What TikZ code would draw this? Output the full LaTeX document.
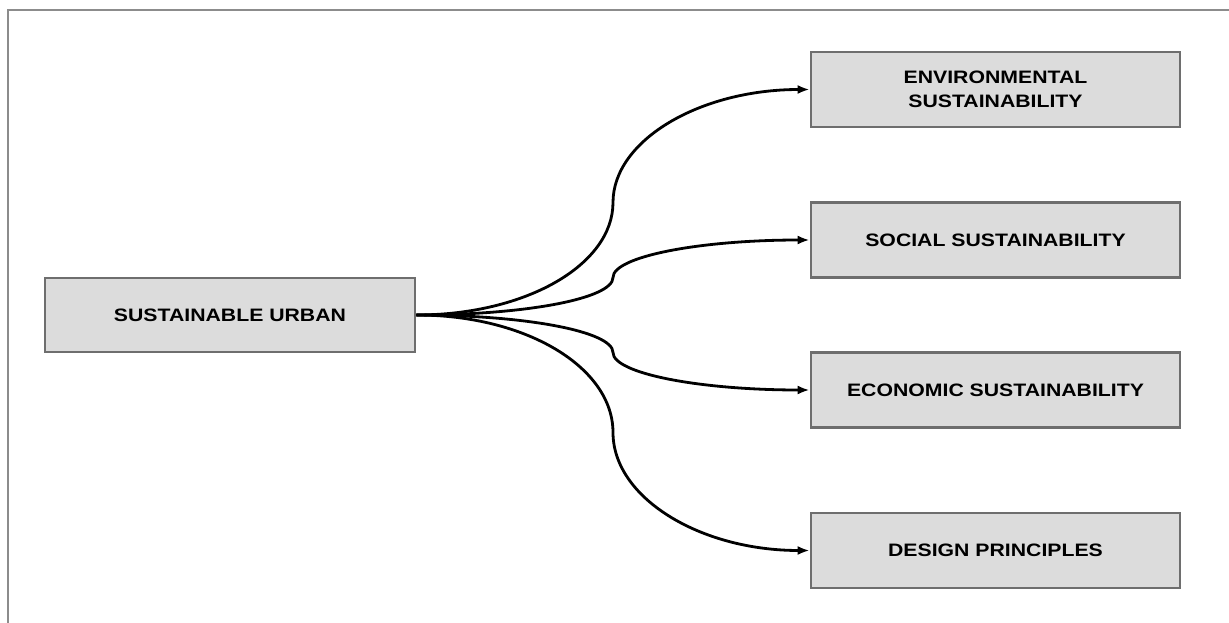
\documentclass[tikz,border=0pt]{standalone}
\usepackage{fontspec}
\setmainfont{Liberation Sans}[FakeStretch=1.18]
\usetikzlibrary{arrows.meta}
\definecolor{boxfill}{HTML}{DCDCDC}
\definecolor{boxline}{HTML}{6E6E6E}
\definecolor{frameline}{HTML}{8C8C8C}
\begin{document}
\begin{tikzpicture}[x=1pt,y=-1pt,
    box/.style={draw=boxline, line width=2.8pt, fill=boxfill, minimum width=369pt,
      minimum height=75pt, inner sep=0pt, align=center,
      font=\bfseries\fontsize{18}{24}\selectfont},
    link/.style={line width=2.8pt, -{Latex[length=12pt,width=9pt]}}]
    \useasboundingbox (0,0) rectangle (1229,623);
    \draw[frameline, line width=2pt] (8,623) -- (8,10) -- (1229,10);

    \node[box, minimum width=370pt, minimum height=74pt] (urban) at (230,315) {SUSTAINABLE URBAN};
    \node[box] (env)    at (995.5,89.5)  {ENVIRONMENTAL\\SUSTAINABILITY};
    \node[box] (social) at (995.5,240)   {SOCIAL SUSTAINABILITY};
    \node[box] (econ)   at (995.5,390)   {ECONOMIC SUSTAINABILITY};
    \node[box] (design) at (995.5,550.5) {DESIGN PRINCIPLES};

    \coordinate (envmid)    at (613,202.5);
    \coordinate (socialmid) at (613,277.5);
    \coordinate (econmid)   at (613,352.5);
    \coordinate (designmid) at (613,432.5);

   \draw[link] (urban.east) .. controls +(110,0) and +(0,62) .. (envmid)
      .. controls +(0,-62) and +(-110,0) .. (env.west);
   \draw[link] (urban.east) .. controls +(110,0) and +(0,21) .. (socialmid)
      .. controls +(0,-21) and +(-110,0) .. (social.west);
   \draw[link] (urban.east) .. controls +(110,0) and +(0,-21) .. (econmid)
      .. controls +(0,21) and +(-110,0) .. (econ.west);
   \draw[link] (urban.east) .. controls +(110,0) and +(0,-65) .. (designmid)
      .. controls +(0,65) and +(-110,0) .. (design.west);
\end{tikzpicture}
\end{document}
